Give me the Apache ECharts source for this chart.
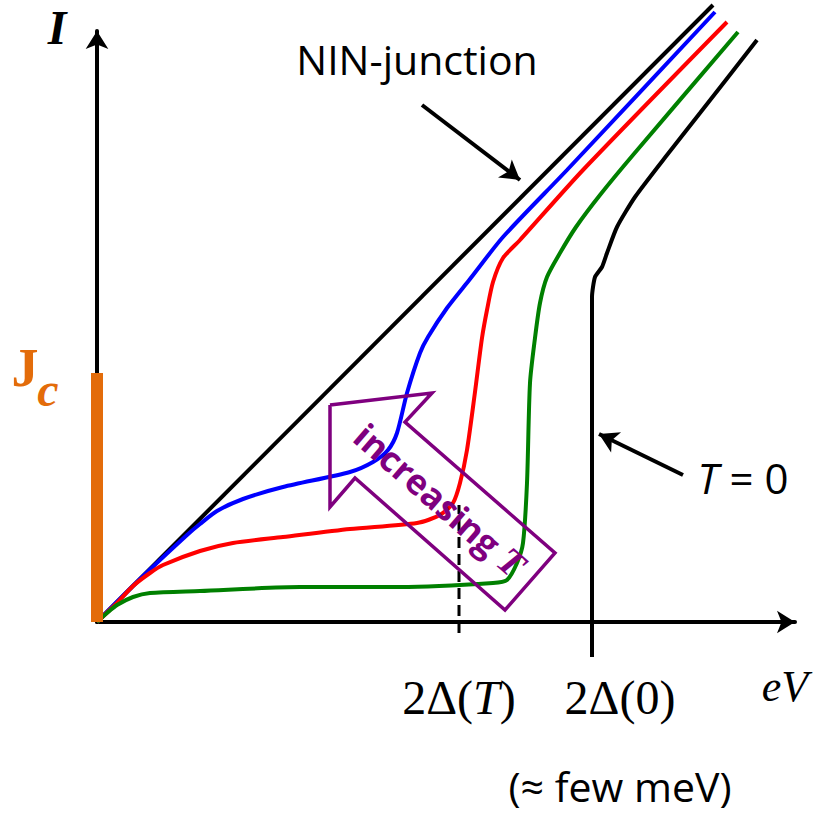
<!DOCTYPE html>
<html><head><meta charset="utf-8">
<script src="https://cdn.jsdelivr.net/npm/echarts@6/dist/echarts.min.js"></script>
<style>html,body{margin:0;padding:0;background:#fff}#c{width:818px;height:813px}</style>
</head><body><div id="c"></div>
<script>
// ---- data (schematic units: eV on x, I on y) ----
const ninJunction = [[0,0],[616,617]];
const curveBlue = [[0,0],[43,43],[90,87],[103,98],[120,111],[146,123],[186,135],[253,150],[276,160],[291,172],[300,189],[310,229],[323,269],[331,285],[350,314],[373,343],[406,385],[470,452],[618,610]];
const curveRed = [[0,0],[18,17],[36,36],[53,49],[66,57],[103,71],[136,79],[186,85],[253,93],[320,99],[343,107],[356,119],[363,139],[370,172],[378,230],[385,284],[390,312],[396,340],[406,364],[423,382],[486,452],[630,600]];
const curveGreen = [[0,0],[10,9],[20,17],[36,25],[53,29],[103,31],[203,35],[303,35],[396,39],[410,42],[420,59],[426,79],[430,139],[433,239],[438,284],[443,319],[450,345],[463,369],[479,395],[503,427],[536,467],[641,590]];
const curveT0 = [[495,-35],[495,325],[498,345],[505,355],[510,369],[520,395],[538,425],[570,467],[603,509],[660,582]];
const criticalCurrent = [[0,0],[0,249]];
const gapT = 362, gap0 = 495;
const xTickValues = [gapT, gap0];
const gapTMarker = [[gapT,-11],[gapT,117]];
const tempArrowOutline = [[233,217],[335,229],[308,200],[458,69],[408,12],[258,144],[233,115],[233,217]];

const chart = echarts.init(document.getElementById('c'), null, {renderer:'svg'});
const SANS = '"Open Sans", "Noto Sans", sans-serif';
const SERIF = '"Liberation Serif", "DejaVu Serif", serif';
const PURPLE = '#7F007F';
const ORANGE = '#E36C0A';

function lineSeries(data, color, extra) {
  return Object.assign({
    type:'line', data:data, symbol:'none', clip:false, silent:true, smooth:0.25,
    lineStyle:{color:color, width:4}, z:3
  }, extra || {});
}

chart.setOption({
  animation:false,
  grid:{left:97, right:23, top:31, bottom:191},
  xAxis:{
    type:'value', min:0, max:698, splitLine:{show:false}, axisTick:{show:false},
    axisLine:{show:true, onZero:false, symbol:['none','arrow'], symbolSize:[17,18], lineStyle:{color:'#000', width:4}},
    axisLabel:{
      show:true, customValues:xTickValues, margin:48,
      formatter:function(v){ return v===gapT ? '{n|2Δ(}{i|T}{n|)}' : '{sp|}{n|2Δ(0)}'; },
      rich:{
        n:{fontFamily:SERIF, fontSize:48, color:'#000', lineHeight:54},
        i:{fontFamily:SERIF, fontSize:48, fontStyle:'italic', color:'#000', lineHeight:54},
        sp:{width:56}
      }
    }
  },
  yAxis:{
    type:'value', min:0, max:591, splitLine:{show:false}, axisTick:{show:false}, axisLabel:{show:false},
    axisLine:{show:true, onZero:false, symbol:['none','arrow'], symbolSize:[17,18], lineStyle:{color:'#000', width:4}}
  },
  series:[
    lineSeries(ninJunction, '#000', {smooth:false,
      markLine:{silent:true, symbol:['none','arrow'], symbolSize:[17,19], label:{show:false},
        lineStyle:{color:'#000', width:4, type:'solid'},
        data:[
          [{coord:[325,517]},{coord:[423,442]}],
          [{coord:[586,147]},{coord:[502,188]}]
        ]}}),
    lineSeries(curveBlue, '#0000FF'),
    lineSeries(curveRed, '#FF0000'),
    lineSeries(curveGreen, '#008000'),
    lineSeries(curveT0, '#000', {smooth:0.2}),
    lineSeries(gapTMarker, '#000', {smooth:false, lineStyle:{color:'#000', width:3, type:[11,6]}}),
    lineSeries(tempArrowOutline, PURPLE, {smooth:false, lineStyle:{color:PURPLE, width:3.5, join:'miter'}, z:4}),
    lineSeries(criticalCurrent, ORANGE, {smooth:false, lineStyle:{color:ORANGE, width:12, cap:'butt'}, z:5})
  ]
});

function px(pt){ return chart.convertToPixel({gridIndex:0}, pt); }
function txt(at, style, extra){
  const p = px(at);
  return Object.assign({type:'text', x:p[0], y:p[1], z:10,
    style:Object.assign({align:'center', verticalAlign:'middle', fill:'#000'}, style)}, extra||{});
}

chart.setOption({graphic:[
  txt([320,563], {text:'NIN-junction', font:'41px '+SANS}),
  txt([646,145], {text:'{i|T}{n| = 0}', rich:{
      i:{fontFamily:SANS, fontSize:42, fontStyle:'italic', fill:'#000'},
      n:{fontFamily:SANS, fontSize:42, fill:'#000'}}}),
  txt([-40,595], {text:'I', font:'italic bold 48px '+SERIF}),
  txt([-72,254], {text:'J', font:'bold 54px '+SERIF, fill:ORANGE}),
  txt([-49,233], {text:'c', font:'italic bold 48px '+SERIF, fill:ORANGE}),
  txt([688,-64], {text:'eV', font:'italic 44px '+SERIF}),
  txt([523,-164], {text:'(≈ few meV)', font:'41px '+SANS}),
  txt([343,122], {text:'{a|increasing }{b|T}', rich:{
      a:{fontFamily:SANS, fontSize:35, fontWeight:'bold', fill:PURPLE},
      b:{fontFamily:SERIF, fontSize:38, fontWeight:'bold', fontStyle:'italic', fill:PURPLE}}},
    {rotation:-41*Math.PI/180})
]});
</script>
</body></html>
